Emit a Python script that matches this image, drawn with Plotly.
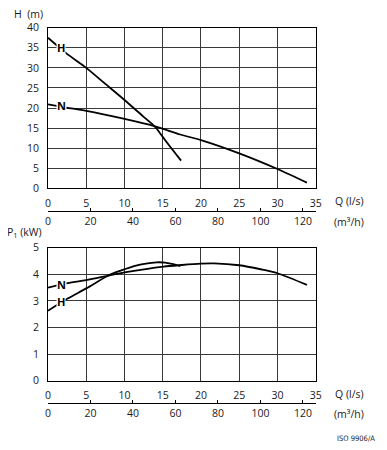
import plotly.graph_objects as go

# ---- data ----
q_top_H = [0, 2.4, 5, 7.5, 10, 12.5, 14, 15, 16, 17.4]
h_top_H = [37.5, 33.6, 30.0, 26.0, 22.0, 17.8, 15.3, 12.8, 10.3, 6.9]

q_top_N = [0, 2.4, 5, 10, 13.9, 17.3, 20, 25, 30, 33.85]
h_top_N = [20.9, 20.1, 19.3, 17.3, 15.5, 13.4, 12.0, 8.7, 4.8, 1.4]

q_bot_H = [0, 2.4, 5, 8.2, 10, 12.2, 14.2, 15.3, 16.2, 17.3]
p_bot_H = [2.63, 3.06, 3.47, 4.0, 4.19, 4.37, 4.45, 4.44, 4.39, 4.31]

q_bot_N = [0, 2.4, 5, 8.2, 10, 15.1, 17.5, 20, 21.7, 25, 27.8, 30, 33.85]
p_bot_N = [3.50, 3.66, 3.78, 3.97, 4.07, 4.29, 4.35, 4.40, 4.41, 4.34, 4.19, 4.04, 3.60]

ls_ticks = [0, 5, 10, 15, 20, 25, 30, 35]
m3h_ticks = [0, 20, 40, 60, 80, 100, 120]
m3h_end = [126]
h_ticks = [0, 5, 10, 15, 20, 25, 30, 35, 40]
p_ticks = [0, 1, 2, 3, 4, 5]

# page body has an 8px default margin -> work in window pixels, shift by 8
OFF = 8
W, H = 387 - OFF, 450 - OFF
FONT = "Open Sans"
TXT = "#1a1a1a"

def px_x(x):
    return (x - OFF) / W

def px_y(y):
    return 1 - (y - OFF) / H

fig = go.Figure()
line = dict(color="black", width=1.8, shape="spline", smoothing=0.8)

fig.add_trace(go.Scatter(x=q_top_H, y=h_top_H, mode="lines", line=line, xaxis="x", yaxis="y", hoverinfo="skip"))
fig.add_trace(go.Scatter(x=q_top_N, y=h_top_N, mode="lines", line=line, xaxis="x", yaxis="y", hoverinfo="skip"))
fig.add_trace(go.Scatter(x=q_bot_N, y=p_bot_N, mode="lines", line=line, xaxis="x2", yaxis="y2", hoverinfo="skip"))
fig.add_trace(go.Scatter(x=q_bot_H, y=p_bot_H, mode="lines", line=line, xaxis="x2", yaxis="y2", hoverinfo="skip"))
# invisible traces to activate the m3/h axes
fig.add_trace(go.Scatter(x=[0, 126], y=[0, 0], mode="markers", marker=dict(opacity=0), xaxis="x3", yaxis="y", hoverinfo="skip"))
fig.add_trace(go.Scatter(x=[0, 126], y=[0, 0], mode="markers", marker=dict(opacity=0), xaxis="x4", yaxis="y2", hoverinfo="skip"))

xdom = [px_x(48), px_x(315.7)]
ydom_top = [px_y(188.3), px_y(27.7)]
ydom_bot = [px_y(380.7), px_y(247.7)]

tickfont = dict(family=FONT, size=10.5, color=TXT)
grid = dict(showgrid=True, gridcolor="#3a3a3a", gridwidth=1, zeroline=False,
            showline=True, mirror=True, linecolor="black", linewidth=1,
            tickfont=tickfont, automargin=False, fixedrange=True)

def m3h_axis(over, pos):
    return dict(domain=xdom, range=[0, 126], overlaying=over, anchor="free", position=pos, side="bottom",
                tickvals=m3h_ticks, ticks="inside", ticklen=3, tickcolor="black",
                minor=dict(tickvals=m3h_end, ticks="inside", ticklen=3, tickcolor="black", showgrid=False),
                showline=True, linecolor="black", linewidth=1, showgrid=False, zeroline=False,
                tickfont=tickfont, automargin=False, fixedrange=True, ticklabelstandoff=1)

fig.update_layout(
    width=W, height=H,
    margin=dict(l=0, r=0, t=0, b=0),
    paper_bgcolor="white", plot_bgcolor="white",
    showlegend=False,
    xaxis=dict(domain=xdom, range=[0, 35], anchor="y", tickvals=ls_ticks, ticks="", ticklabelstandoff=5, **grid),
    yaxis=dict(domain=ydom_top, range=[0, 40], anchor="x", tickvals=h_ticks, ticks="", ticklabelstandoff=6, **grid),
    xaxis2=dict(domain=xdom, range=[0, 35], anchor="y2", tickvals=ls_ticks, ticks="", ticklabelstandoff=5, **grid),
    yaxis2=dict(domain=ydom_bot, range=[0, 5], anchor="x2", tickvals=p_ticks, ticks="", ticklabelstandoff=6, **grid),
    xaxis3=m3h_axis("x", px_y(210.7)),
    xaxis4=m3h_axis("x2", px_y(402.7)),
)

lab_font = dict(family=FONT, size=11, color="black")
curve_labels = [
    ("H", 1.7, 35.1, "x", "y"),
    ("N", 1.7, 20.6, "x", "y"),
    ("N", 1.7, 3.62, "x2", "y2"),
    ("H", 1.7, 2.97, "x2", "y2"),
]
for t, x, y, xr, yr in curve_labels:
    fig.add_annotation(text="<b>%s</b>" % t, x=x, y=y, xref=xr, yref=yr, showarrow=False,
                       font=lab_font, bgcolor="white", borderpad=0, xanchor="center", yanchor="middle")

texts = [
    ("H  (m)", 12, 14, "left", 10.5),
    ("P<sub>1</sub> (kW)", 5, 232, "left", 10.5),
    ("Q (l/s)", 333, 201, "left", 10.5),
    ("(m³/h)", 332, 221.5, "left", 10.5),
    ("Q (l/s)", 333, 393.5, "left", 10.5),
    ("(m³/h)", 332, 414, "left", 10.5),
]
for t, x, y, xa, sz in texts:
    fig.add_annotation(text=t, x=px_x(x), y=px_y(y), xref="paper", yref="paper", showarrow=False,
                       font=dict(family=FONT, size=sz, color=TXT), xanchor=xa, yanchor="middle")

fig.add_annotation(text="ISO 9906/A", x=px_x(355.5), y=px_y(438.3), xref="paper", yref="paper", showarrow=False,
                   font=dict(family="DejaVu Sans Condensed, DejaVu Sans", size=7.5, color=TXT),
                   xanchor="center", yanchor="middle")

fig.write_html("out.html")
